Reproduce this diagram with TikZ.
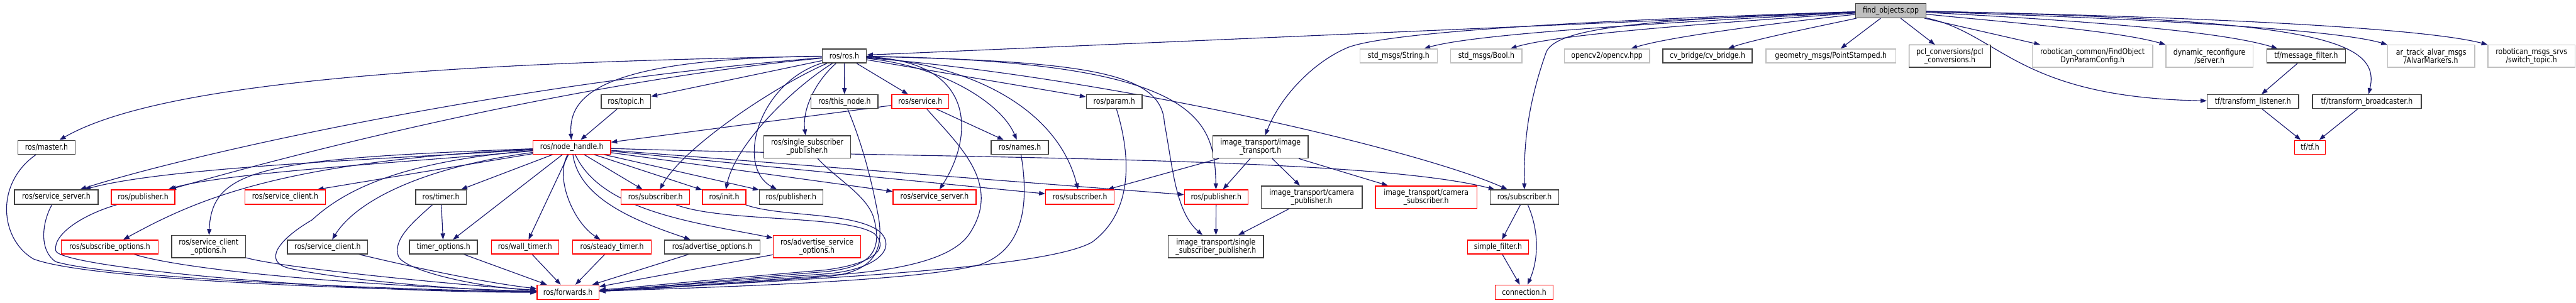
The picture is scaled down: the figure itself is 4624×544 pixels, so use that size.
\documentclass[tikz,border=0pt]{standalone}
\usepackage{fontspec}
\setmainfont[FakeStretch=0.85]{DejaVu Sans}
\usetikzlibrary{arrows.meta}
\definecolor{edgec}{HTML}{191970}
\definecolor{blk}{HTML}{404040}
\definecolor{redb}{HTML}{FF0000}
\definecolor{grayb}{HTML}{BFBFBF}
\pgfdeclarelayer{edgelayer}
\pgfsetlayers{edgelayer,main}
\tikzset{
  nbox/.style={draw=blk, line width=1.6pt, fill=white, inner sep=0pt, align=center,
    font=\fontsize{14.5}{15}\selectfont},
  rbox/.style={nbox, draw=redb},
  gbox/.style={nbox, draw=grayb},
  rootbox/.style={nbox, fill=grayb},
  dep/.style={draw=edgec, line width=1.3pt, -{Triangle[length=11pt,width=8pt]}},
}
\newcommand\mkn[7]{\node[#6, minimum width={(#4)-(#2)}, minimum height={(#5)-(#3)}] (#1) at ({((#2)+(#4))/2},{((#3)+(#5))/2}) {#7};}
\begin{document}
\begin{tikzpicture}[x=1pt,y=-1pt]
\useasboundingbox (0,0) rectangle (4624,544);
% rank 0
\mkn{fo}{3331}{6}{3457}{32}{rootbox}{find\_objects.cpp}
% rank 1
\mkn{ros}{1476}{88}{1555}{113}{nbox}{ros/ros.h}
\mkn{strh}{2441}{88}{2580}{113}{gbox}{std\_msgs/String.h}
\mkn{boolh}{2604}{88}{2732}{113}{gbox}{std\_msgs/Bool.h}
\mkn{ocv}{2808}{88}{2961}{113}{gbox}{opencv2/opencv.hpp}
\mkn{cvb}{2985}{88}{3145}{113}{nbox}{cv\_bridge/cv\_bridge.h}
\mkn{geo}{3170}{88}{3403}{113}{gbox}{geometry\_msgs/PointStamped.h}
\mkn{pcl}{3427}{81}{3573}{121}{nbox}{pcl\_conversions/pcl\\\_conversions.h}
\mkn{rcom}{3648}{81}{3864}{121}{gbox}{robotican\_common/FindObject\\DynParamConfig.h}
\mkn{dyn}{3888}{81}{4044}{121}{gbox}{dynamic\_reconfigure\\/server.h}
\mkn{tfmf}{4069}{88}{4210}{113}{nbox}{tf/message\_filter.h}
\mkn{ar}{4286}{81}{4442}{121}{gbox}{ar\_track\_alvar\_msgs\\/AlvarMarkers.h}
\mkn{rms}{4466}{81}{4622}{121}{gbox}{robotican\_msgs\_srvs\\/switch\_topic.h}
% rank 2
\mkn{topic}{1079}{170}{1168}{195}{nbox}{ros/topic.h}
\mkn{thisnode}{1456}{170}{1576}{195}{nbox}{ros/this\_node.h}
\mkn{service}{1601}{170}{1703}{195}{rbox}{ros/service.h}
\mkn{param}{1950}{170}{2050}{195}{nbox}{ros/param.h}
\mkn{tfl}{3962}{170}{4126}{195}{nbox}{tf/transform\_listener.h}
\mkn{tfb}{4151}{170}{4346}{195}{nbox}{tf/transform\_broadcaster.h}
% rank 3
\mkn{master}{32}{252}{135}{277}{nbox}{ros/master.h}
\mkn{nh}{957}{252}{1096}{277}{rbox}{ros/node\_handle.h}
\mkn{ssp}{1371}{244}{1527}{284}{nbox}{ros/single\_subscriber\\\_publisher.h}
\mkn{names}{1779}{252}{1882}{277}{nbox}{ros/names.h}
\mkn{itr}{2177}{244}{2348}{284}{nbox}{image\_transport/image\\\_transport.h}
\mkn{tftf}{4119}{252}{4174}{277}{rbox}{tf/tf.h}
% rank 4
\mkn{ssL}{26}{341}{176}{367}{nbox}{ros/service\_server.h}
\mkn{pubL}{200}{341}{314}{367}{rbox}{ros/publisher.h}
\mkn{scR}{440}{341}{584}{367}{rbox}{ros/service\_client.h}
\mkn{timer}{746}{341}{837}{367}{nbox}{ros/timer.h}
\mkn{subM}{1115}{341}{1238}{367}{rbox}{ros/subscriber.h}
\mkn{init}{1261}{341}{1339}{367}{rbox}{ros/init.h}
\mkn{pubB}{1363}{341}{1477}{367}{nbox}{ros/publisher.h}
\mkn{ssR}{1603}{341}{1752}{367}{rbox}{ros/service\_server.h}
\mkn{subR}{1877}{341}{2000}{367}{rbox}{ros/subscriber.h}
\mkn{pubR}{2126}{341}{2240}{367}{rbox}{ros/publisher.h}
\mkn{camp}{2264}{334}{2445}{374}{nbox}{image\_transport/camera\\\_publisher.h}
\mkn{cams}{2469}{334}{2651}{374}{rbox}{image\_transport/camera\\\_subscriber.h}
\mkn{subB}{2675}{341}{2798}{367}{nbox}{ros/subscriber.h}
% rank 5
\mkn{subopt}{110}{431}{284}{456}{rbox}{ros/subscribe\_options.h}
\mkn{scopt}{308}{423}{441}{463}{nbox}{ros/service\_client\\\_options.h}
\mkn{scB}{516}{431}{660}{456}{nbox}{ros/service\_client.h}
\mkn{topt}{735}{431}{857}{456}{nbox}{timer\_options.h}
\mkn{wt}{882}{431}{1003}{456}{rbox}{ros/wall\_timer.h}
\mkn{st}{1028}{431}{1169}{456}{rbox}{ros/steady\_timer.h}
\mkn{aopt}{1193}{431}{1364}{456}{nbox}{ros/advertise\_options.h}
\mkn{asopt}{1388}{423}{1545}{463}{rbox}{ros/advertise\_service\\\_options.h}
\mkn{itssp}{2097}{423}{2268}{463}{nbox}{image\_transport/single\\\_subscriber\_publisher.h}
\mkn{sf}{2634}{431}{2744}{456}{rbox}{simple\_filter.h}
% rank 6
\mkn{fwd}{964}{512}{1075}{538}{rbox}{ros/forwards.h}
\mkn{conn}{2684}{512}{2788}{538}{rbox}{connection.h}

\begin{pgfonlayer}{edgelayer}
% find_objects.cpp
\draw[dep] (fo) -- (ros);
\draw[dep] (fo) .. controls (2900,35) and (2500,55) .. (2420,85) .. controls (2360,110) and (2300,170) .. (itr);
\draw[dep] (fo) .. controls (3000,40) and (2650,60) .. (strh);
\draw[dep] (fo) .. controls (3100,40) and (2800,60) .. (boolh);
\draw[dep] (fo) .. controls (3200,40) and (3000,65) .. (ocv);
\draw[dep] (fo) .. controls (3300,40) and (3150,70) .. (cvb);
\draw[dep] (fo) -- (geo);
\draw[dep] (fo) -- (pcl);
\draw[dep] (fo) -- ([xshift=15]rcom.north west);
\draw[dep] (fo) .. controls (3600,40) and (3800,55) .. (dyn.north west);
\draw[dep] (fo) .. controls (3800,40) and (4000,60) .. ([xshift=20]tfmf.north west);
\draw[dep] (fo) .. controls (3900,35) and (4200,55) .. (ar.north west);
\draw[dep] (fo) .. controls (3950,30) and (4350,50) .. (rms.north west);
\draw[dep] (fo) .. controls (4150,35) and (4275,70) .. (tfb);
\draw[dep] (fo) .. controls (3590,60) and (3620,175) .. (tfl);
\draw[dep] (fo) .. controls (2950,35) and (2790,50) .. (2775,95) .. controls (2745,180) and (2735,250) .. (subB);
% ros/ros.h
\draw[dep] (ros) .. controls (600,115) and (250,170) .. (master);
\draw[dep] (ros) .. controls (900,150) and (330,280) .. (ssL);
\draw[dep] (ros) .. controls (1000,150) and (480,290) .. (pubL);
\draw[dep] (ros) .. controls (1080,105) and (1020,170) .. (nh);
\draw[dep] (ros) -- (topic);
\draw[dep] (ros) -- (thisnode);
\draw[dep] (ros) -- (service);
\draw[dep] (ros) .. controls (1700,120) and (1800,190) .. (names);
\draw[dep] (ros) -- (param);
\draw[dep] (ros) .. controls (1400,150) and (1230,260) .. (subM);
\draw[dep] (ros) .. controls (1420,160) and (1320,260) .. (init);
\draw[dep] (ros) .. controls (1360,150) and (1320,300) .. (pubB);
\draw[dep] (ros) .. controls (1460,150) and (1440,200) .. (ssp);
\draw[dep] (ros) .. controls (1760,110) and (1745,250) .. (ssR);
\draw[dep] (ros) .. controls (1750,115) and (1900,200) .. (subR);
\draw[dep] (ros) .. controls (1950,110) and (2085,130) .. (2090,220) .. controls (2105,300) and (2110,380) .. (itssp);
\draw[dep] (ros) .. controls (2150,110) and (2180,210) .. (pubR);
\draw[dep] (ros) .. controls (2000,140) and (2550,270) .. (subB);
% rank 2
\draw[dep] (topic) -- (nh);
\draw[dep] (service) -- (nh);
\draw[dep] (service) -- (names);
\draw[dep] (service) .. controls (1720,260) and (1800,330) .. (1740,420) .. controls (1700,480) and (1550,490) .. (1480,495) .. controls (1300,508) and (1150,520) .. (fwd);
\draw[dep] (thisnode) .. controls (1540,240) and (1560,300) .. (1575,380) .. controls (1590,450) and (1570,490) .. (1480,497) .. controls (1300,510) and (1150,520) .. (fwd);
\draw[dep] (ssp) .. controls (1500,320) and (1555,350) .. (1568,390) .. controls (1585,450) and (1565,480) .. (1480,488) .. controls (1300,503) and (1150,518) .. (fwd);
\draw[dep] (names) .. controls (1850,380) and (1830,450) .. (1760,475) .. controls (1650,505) and (1300,515) .. (fwd);
\draw[dep] (param) .. controls (2030,280) and (2035,380) .. (1960,435) .. controls (1880,480) and (1500,500) .. (fwd);
\draw[dep] (subM) .. controls (1300,400) and (1520,385) .. (1570,420) .. controls (1600,450) and (1560,475) .. (1480,485) .. controls (1300,500) and (1150,515) .. (fwd);
\draw[dep] (init) .. controls (1400,390) and (1530,380) .. (1578,415) .. controls (1612,445) and (1575,485) .. (1480,492) .. controls (1300,505) and (1150,518) .. (fwd);
% left side to forwards
\draw[dep] (master) .. controls (-10,330) and (0,430) .. (60,465) .. controls (150,500) and (600,520) .. (fwd);
\draw[dep] (ssL) .. controls (75,400) and (70,450) .. (100,470) .. controls (200,500) and (700,520) .. (fwd);
\draw[dep] (pubL) .. controls (150,385) and (95,420) .. (100,450) .. controls (105,480) and (600,525) .. (fwd);
\draw[dep] (subopt) .. controls (350,490) and (700,515) .. (fwd);
\draw[dep] (scopt) .. controls (500,480) and (800,510) .. (fwd);
\draw[dep] (scB) .. controls (700,470) and (850,505) .. (fwd);
\draw[dep] (nh) .. controls (720,290) and (620,340) .. (560,395) .. controls (500,430) and (470,470) .. (520,482) .. controls (600,500) and (800,520) .. (fwd);
\draw[dep] (timer) .. controls (740,400) and (705,430) .. (715,460) .. controls (725,485) and (850,515) .. (fwd);
\draw[dep] (timer) -- (topt);
\draw[dep] (topt) -- (fwd);
\draw[dep] (wt) -- (fwd);
\draw[dep] (st) -- (fwd);
\draw[dep] (aopt) -- (fwd);
\draw[dep] (asopt) -- (fwd);
% node_handle
\draw[dep] (nh) .. controls (700,285) and (300,300) .. (ssL);
\draw[dep] (nh) .. controls (750,290) and (400,310) .. (pubL);
\draw[dep] (nh) .. controls (500,290) and (350,360) .. (subopt);
\draw[dep] (nh) .. controls (480,285) and (380,300) .. (scopt);
\draw[dep] (nh) -- ([xshift=-15]scR.north east);
\draw[dep] (nh) .. controls (760,300) and (640,360) .. (scB);
\draw[dep] (nh) -- (timer);
\draw[dep] (nh) -- (topt);
\draw[dep] (nh) -- (wt);
\draw[dep] (nh) .. controls (995,320) and (1030,400) .. (st);
\draw[dep] (nh) .. controls (1040,360) and (1150,400) .. (aopt);
\draw[dep] (nh) .. controls (1080,380) and (1250,400) .. (asopt);
\draw[dep] (nh) -- (subM);
\draw[dep] (nh) -- (init);
\draw[dep] (nh) -- (pubB);
\draw[dep] (nh) -- (ssR);
\draw[dep] (nh) -- (subR);
\draw[dep] (nh) -- (pubR);
\draw[dep] (nh) .. controls (1700,285) and (2450,280) .. (subB);
% image_transport
\draw[dep] (itr) -- (subR);
\draw[dep] (itr) -- (pubR);
\draw[dep] (itr) -- (camp);
\draw[dep] (itr) -- (cams);
\draw[dep] (pubR) -- (itssp);
\draw[dep] (camp) -- (itssp);
% subscriber (right)
\draw[dep] (subB) -- (sf);
\draw[dep] (subB) .. controls (2765,420) and (2760,470) .. (conn);
\draw[dep] (sf) -- (conn);
% tf
\draw[dep] (tfmf) -- (tfl);
\draw[dep] (tfl) -- (tftf);
\draw[dep] (tfb) -- (tftf);
\end{pgfonlayer}
\end{tikzpicture}
\end{document}
